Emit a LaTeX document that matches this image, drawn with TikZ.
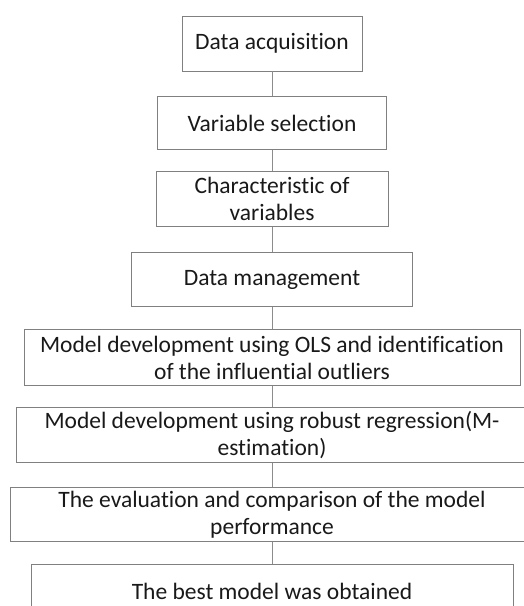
\documentclass[tikz,border=0pt]{standalone}
\usepackage{fontspec}
\setmainfont{Carlito}[Ligatures=CommonOff]
\usetikzlibrary{positioning}

\begin{document}
\begin{tikzpicture}[x=1pt,y=1pt,
  stepbox/.style={draw=black!50,line width=0.9pt,align=center,inner sep=0pt,
    minimum height=55pt,text=black!90,font=\fontsize{23.5}{27}\selectfont},
  link/.style={draw=black!45,line width=0.9pt}]
\useasboundingbox (0,0) rectangle (523,-606);
\node[stepbox,minimum width=180pt] (acq) at (272,-43.5) {Data acquisition};
\node[stepbox,minimum width=229pt,minimum height=53pt,below=25pt of acq] (sel) {Variable selection};
\node[stepbox,minimum width=232pt,below=21pt of sel] (chr) {Characteristic of\\ variables};
\node[stepbox,minimum width=281pt,minimum height=54pt,below=25pt of chr] (mgmt) {Data management};
\node[stepbox,minimum width=496pt,minimum height=56pt,below=22pt of mgmt] (ols) {Model development using OLS and identification\\ of the influential outliers};
\node[stepbox,minimum width=511pt,below=21pt of ols] (rob) {Model development using robust regression(M-\\ estimation)};
\node[stepbox,minimum width=523pt,minimum height=54pt,below=24pt of rob] (eval) {The evaluation and comparison of the model\\ performance};
\node[stepbox,minimum width=482pt,below=22pt of eval] (best) {The best model was obtained};
% connectors down the chain
\foreach \a/\b in {acq/sel,sel/chr,chr/mgmt,mgmt/ols,ols/rob,rob/eval,eval/best}
  \draw[link] (\a) -- (\b);
\end{tikzpicture}
\end{document}
